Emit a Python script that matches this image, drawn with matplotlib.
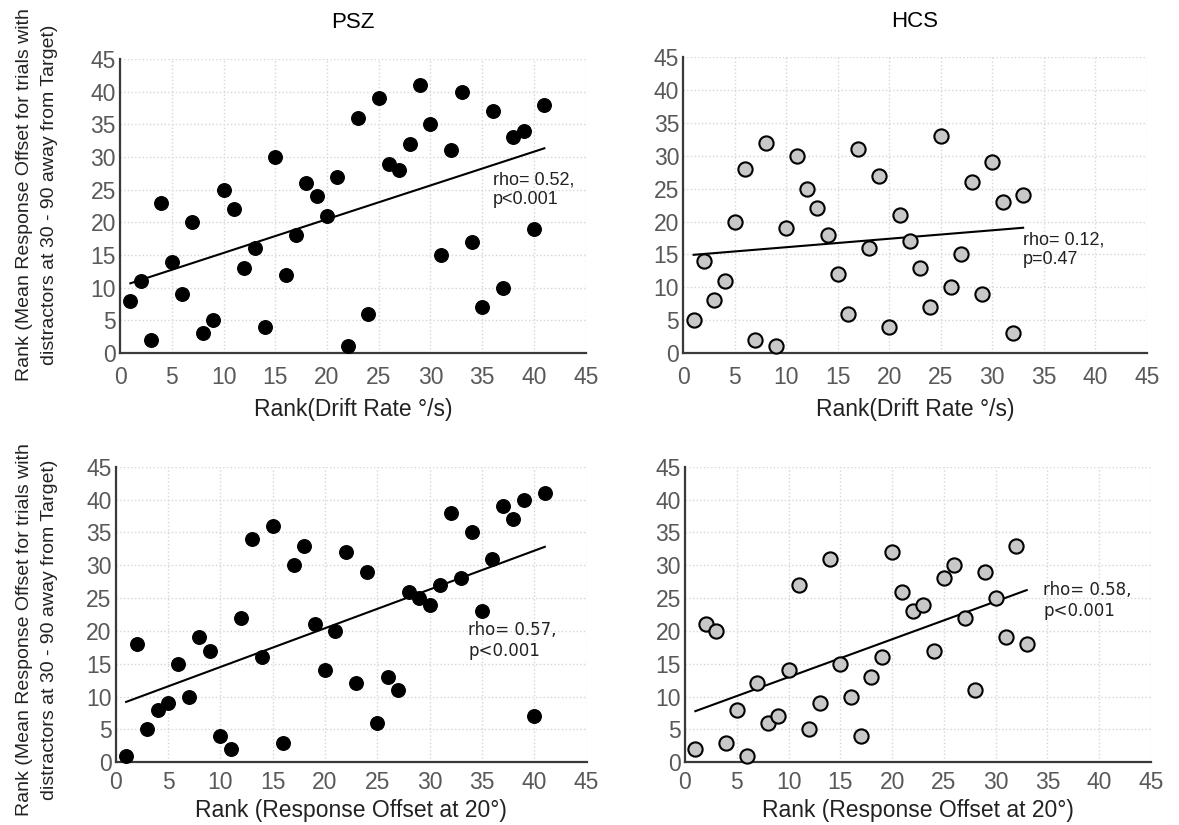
import numpy as np
import matplotlib
matplotlib.use("Agg")
import matplotlib.pyplot as plt

plt.rcParams['font.family'] = ['Liberation Sans', 'DejaVu Sans']

# PSZ, drift rate rank vs response offset rank
psz_drift_x = list(range(1, 42))
psz_drift_y = [8, 11, 2, 23, 14, 9, 20, 3, 5, 25, 22, 13, 16, 4, 30, 12, 18, 26, 24, 21, 27,
               1, 36, 6, 39, 29, 28, 32, 41, 35, 15, 31, 40, 17, 7, 37, 10, 33, 34, 19, 38]

# HCS, drift rate rank vs response offset rank
hcs_drift_x = list(range(1, 34))
hcs_drift_y = [5, 14, 8, 11, 20, 28, 2, 32, 1, 19, 30, 25, 22, 18, 12, 6, 31, 16, 27, 4, 21,
               17, 13, 7, 33, 10, 15, 26, 9, 29, 23, 3, 24]

# PSZ, response offset at 20 deg rank
psz_off_x = list(range(1, 42))
psz_off_y = [1, 18, 5, 8, 9, 15, 10, 19, 17, 4, 2, 22, 34, 16, 36, 3, 30, 33, 21, 14, 20,
             32, 12, 29, 6, 13, 11, 26, 25, 24, 27, 38, 28, 35, 23, 31, 39, 37, 40, 7, 41]

# HCS, response offset at 20 deg rank
hcs_off_x = list(range(1, 34))
hcs_off_y = [2, 21, 20, 3, 8, 1, 12, 6, 7, 14, 27, 5, 9, 31, 15, 10, 4, 13, 16, 32, 26,
             23, 24, 17, 28, 30, 22, 11, 29, 25, 19, 33, 18]

stats = ["rho= 0.52,\np<0.001", "rho= 0.12,\np=0.47", "rho= 0.57,\np<0.001", "rho= 0.58,\np<0.001"]
stat_pos = [(36.0, 25.0), (33.0, 15.7), (33.7, 18.6), (34.6, 24.6)]
ticks = list(range(0, 46, 5))
ylab = "Rank (Mean Response Offset for trials with\ndistractors at 30 - 90 away from Target)"

fig = plt.figure(figsize=(11.79, 8.25), dpi=100)
boxes = [[0.1018, 0.5721, 0.395, 0.3564],
         [0.5796, 0.5721, 0.393, 0.3585],
         [0.0981, 0.0760, 0.3995, 0.3583],
         [0.5810, 0.0760, 0.3952, 0.3583]]
panels = [(psz_drift_x, psz_drift_y, "black", "Rank(Drift Rate °/s)"),
          (hcs_drift_x, hcs_drift_y, "#c8c8c8", "Rank(Drift Rate °/s)"),
          (psz_off_x, psz_off_y, "black", "Rank (Response Offset at 20°)"),
          (hcs_off_x, hcs_off_y, "#c8c8c8", "Rank (Response Offset at 20°)")]

for i, (x, y, col, xl) in enumerate(panels):
    top_row = i < 2
    ax = fig.add_axes(boxes[i])
    ax.set_xlim(0, 45)
    ax.set_ylim(0, 45)
    ax.set_xticks(ticks)
    ax.set_yticks(ticks)
    ax.grid(True, color="#d6d6d6", linestyle=":", linewidth=1)
    ax.set_axisbelow(True)
    for s in ["top", "right"]:
        ax.spines[s].set_visible(False)
    for s in ["left", "bottom"]:
        ax.spines[s].set_color("#3a3a3a")
        ax.spines[s].set_linewidth(1.6)
    ax.tick_params(length=0, labelsize=16.5, labelcolor="#595959")
    ax.tick_params(axis="x", pad=9 if top_row else 6)
    ax.tick_params(axis="y", pad=3)

    xa = np.array(x)
    ya = np.array(y)
    k, b = np.polyfit(xa, ya, 1)
    ax.plot([xa.min(), xa.max()], [k * xa.min() + b, k * xa.max() + b], color="black", lw=1.5, zorder=2)
    if col == "black":
        ax.scatter(xa, ya, s=95, color="black", zorder=3, clip_on=False)
    else:
        ax.scatter(xa, ya, s=105, facecolor=col, edgecolor="black", linewidth=1.5, zorder=3, clip_on=False)

    fam = ['Liberation Sans', 'DejaVu Sans'] if top_row else ['DejaVu Sans']
    ax.text(stat_pos[i][0], stat_pos[i][1], stats[i], fontsize=13 if top_row else 12,
            family=fam, color="#222222", linespacing=1.2, va="center")
    ax.set_xlabel(xl, fontsize=16.5, color="#222222", labelpad=7 if top_row else 4)
    if i == 0:
        ax.set_title("PSZ", fontsize=16, pad=22)
    if i == 1:
        ax.set_title("HCS", fontsize=16, pad=22)

# shared y label text on the left of each row
for yc in [195, 630]:
    fig.text(37 / 1179, 1 - yc / 825, ylab, rotation=90, ha="center", va="center",
             fontsize=14, color="#222222", linespacing=1.6)

fig.savefig("out.png", dpi=100)
